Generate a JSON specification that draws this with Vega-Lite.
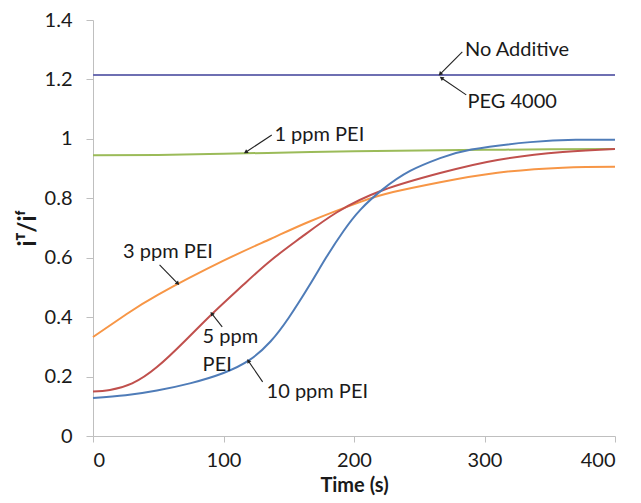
{
  "$schema": "https://vega.github.io/schema/vega-lite/v6.json",
  "width": 522,
  "height": 416,
  "autosize": {"type": "none"},
  "padding": {"left": 93, "top": 20, "right": 26, "bottom": 67},
  "background": "white",
  "config": {
    "view": {"stroke": null},
    "font": "Lato",
    "axis": {
      "grid": false,
      "domainColor": "#BFBFBF",
      "tickColor": "#BFBFBF",
      "labelColor": "#1a1a1a",
      "labelFont": "Lato",
      "labelFontSize": 20,
      "titleFont": "Lato",
      "titleFontSize": 20,
      "titleFontWeight": "bold",
      "titleColor": "#1a1a1a"
    }
  },
  "datasets": {
    "series": [
      {"series": "No Additive", "t": 0, "v": 1.215},
      {"series": "No Additive", "t": 200, "v": 1.215},
      {"series": "No Additive", "t": 400, "v": 1.215},
      {"series": "PEG 4000", "t": 0, "v": 1.215},
      {"series": "PEG 4000", "t": 200, "v": 1.215},
      {"series": "PEG 4000", "t": 400, "v": 1.215},
      {"series": "1 ppm PEI", "t": 0, "v": 0.945},
      {"series": "1 ppm PEI", "t": 50, "v": 0.946},
      {"series": "1 ppm PEI", "t": 100, "v": 0.95},
      {"series": "1 ppm PEI", "t": 150, "v": 0.954},
      {"series": "1 ppm PEI", "t": 200, "v": 0.958},
      {"series": "1 ppm PEI", "t": 250, "v": 0.961},
      {"series": "1 ppm PEI", "t": 300, "v": 0.963},
      {"series": "1 ppm PEI", "t": 350, "v": 0.965},
      {"series": "1 ppm PEI", "t": 400, "v": 0.966},
      {"series": "3 ppm PEI", "t": 0, "v": 0.333},
      {"series": "3 ppm PEI", "t": 25, "v": 0.408},
      {"series": "3 ppm PEI", "t": 50, "v": 0.476},
      {"series": "3 ppm PEI", "t": 100, "v": 0.59},
      {"series": "3 ppm PEI", "t": 136, "v": 0.663},
      {"series": "3 ppm PEI", "t": 166, "v": 0.722},
      {"series": "3 ppm PEI", "t": 205, "v": 0.788},
      {"series": "3 ppm PEI", "t": 230, "v": 0.821},
      {"series": "3 ppm PEI", "t": 266, "v": 0.854},
      {"series": "3 ppm PEI", "t": 310, "v": 0.886},
      {"series": "3 ppm PEI", "t": 360, "v": 0.903},
      {"series": "3 ppm PEI", "t": 400, "v": 0.906},
      {"series": "5 ppm PEI", "t": 0, "v": 0.15},
      {"series": "5 ppm PEI", "t": 13, "v": 0.155},
      {"series": "5 ppm PEI", "t": 30, "v": 0.177},
      {"series": "5 ppm PEI", "t": 49, "v": 0.232},
      {"series": "5 ppm PEI", "t": 70, "v": 0.318},
      {"series": "5 ppm PEI", "t": 92, "v": 0.414},
      {"series": "5 ppm PEI", "t": 115, "v": 0.508},
      {"series": "5 ppm PEI", "t": 136, "v": 0.59},
      {"series": "5 ppm PEI", "t": 160, "v": 0.67},
      {"series": "5 ppm PEI", "t": 187, "v": 0.753},
      {"series": "5 ppm PEI", "t": 222, "v": 0.827},
      {"series": "5 ppm PEI", "t": 266, "v": 0.885},
      {"series": "5 ppm PEI", "t": 310, "v": 0.929},
      {"series": "5 ppm PEI", "t": 360, "v": 0.956},
      {"series": "5 ppm PEI", "t": 400, "v": 0.966},
      {"series": "10 ppm PEI", "t": 0, "v": 0.128},
      {"series": "10 ppm PEI", "t": 25, "v": 0.137},
      {"series": "10 ppm PEI", "t": 49, "v": 0.153},
      {"series": "10 ppm PEI", "t": 75, "v": 0.178},
      {"series": "10 ppm PEI", "t": 100, "v": 0.212},
      {"series": "10 ppm PEI", "t": 120, "v": 0.256},
      {"series": "10 ppm PEI", "t": 136, "v": 0.318},
      {"series": "10 ppm PEI", "t": 150, "v": 0.398},
      {"series": "10 ppm PEI", "t": 166, "v": 0.508},
      {"series": "10 ppm PEI", "t": 179, "v": 0.603},
      {"series": "10 ppm PEI", "t": 192, "v": 0.69},
      {"series": "10 ppm PEI", "t": 205, "v": 0.762},
      {"series": "10 ppm PEI", "t": 222, "v": 0.83},
      {"series": "10 ppm PEI", "t": 243, "v": 0.892},
      {"series": "10 ppm PEI", "t": 266, "v": 0.935},
      {"series": "10 ppm PEI", "t": 290, "v": 0.964},
      {"series": "10 ppm PEI", "t": 335, "v": 0.989},
      {"series": "10 ppm PEI", "t": 370, "v": 0.997},
      {"series": "10 ppm PEI", "t": 400, "v": 0.997}
    ],
    "labels": [
      {"label": "No Additive", "t": 285, "v": 1.3},
      {"label": "PEG 4000", "t": 287, "v": 1.125},
      {"label": "1 ppm PEI", "t": 139, "v": 1.013},
      {"label": "3 ppm PEI", "t": 23, "v": 0.62},
      {"label": "5 ppm", "t": 84, "v": 0.333},
      {"label": "PEI", "t": 84, "v": 0.239},
      {"label": "10 ppm PEI", "t": 133, "v": 0.148}
    ],
    "arrows": [
      {"tailT": 283, "tailV": 1.293, "tipT": 266, "tipV": 1.218},
      {"tailT": 286, "tailV": 1.148, "tipT": 267, "tipV": 1.205},
      {"tailT": 137, "tailV": 1.013, "tipT": 117, "tipV": 0.955},
      {"tailT": 51, "tailV": 0.576, "tipT": 65, "tipV": 0.513},
      {"tailT": 99, "tailV": 0.367, "tipT": 91, "tipV": 0.412},
      {"tailT": 130, "tailV": 0.182, "tipT": 119, "tipV": 0.253}
    ]
  },
  "layer": [
    {
      "data": {"name": "series"},
      "mark": {"type": "line", "strokeWidth": 2, "interpolate": "natural"},
      "encoding": {
        "x": {
          "field": "t", "type": "quantitative",
          "scale": {"domain": [0, 400], "nice": false},
          "axis": {"values": [0, 100, 200, 300, 400], "tickSize": 6, "labelPadding": 8, "title": "Time (s)", "titlePadding": 5}
        },
        "y": {
          "field": "v", "type": "quantitative",
          "scale": {"domain": [0, 1.4], "nice": false},
          "axis": {"values": [0, 0.2, 0.4, 0.6, 0.8, 1, 1.2, 1.4], "format": "~g", "tickSize": 7, "labelPadding": 14, "title": "iᵀ/iᶠ", "titleFontSize": 24, "titlePadding": 4}
        },
        "color": {
          "field": "series", "type": "nominal", "legend": null,
          "scale": {
            "domain": ["No Additive", "PEG 4000", "1 ppm PEI", "3 ppm PEI", "5 ppm PEI", "10 ppm PEI"],
            "range": ["#4F81BD", "#6E6FB2", "#9BBB59", "#F79646", "#C0504D", "#4F7CB8"]
          }
        },
        "order": {"field": "t", "type": "quantitative"}
      }
    },
    {
      "data": {"name": "arrows"},
      "mark": {"type": "rule", "color": "#222222", "strokeWidth": 1.1},
      "encoding": {
        "x": {"field": "tailT", "type": "quantitative"},
        "y": {"field": "tailV", "type": "quantitative"},
        "x2": {"field": "tipT"},
        "y2": {"field": "tipV"}
      }
    },
    {
      "data": {"name": "arrows"},
      "transform": [
        {"calculate": "atan2((datum.tipT - datum.tailT) * 1.305, (datum.tipV - datum.tailV) * 297) * 180 / PI", "as": "ang"}
      ],
      "mark": {"type": "point", "shape": "triangle-up", "filled": true, "color": "#222222", "size": 22, "opacity": 1},
      "encoding": {
        "x": {"field": "tipT", "type": "quantitative"},
        "y": {"field": "tipV", "type": "quantitative"},
        "angle": {"field": "ang", "type": "quantitative", "scale": null}
      }
    },
    {
      "data": {"name": "labels"},
      "mark": {"type": "text", "align": "left", "baseline": "middle", "font": "Lato", "fontSize": 20, "color": "#1a1a1a"},
      "encoding": {
        "x": {"field": "t", "type": "quantitative"},
        "y": {"field": "v", "type": "quantitative"},
        "text": {"field": "label"}
      }
    }
  ]
}
